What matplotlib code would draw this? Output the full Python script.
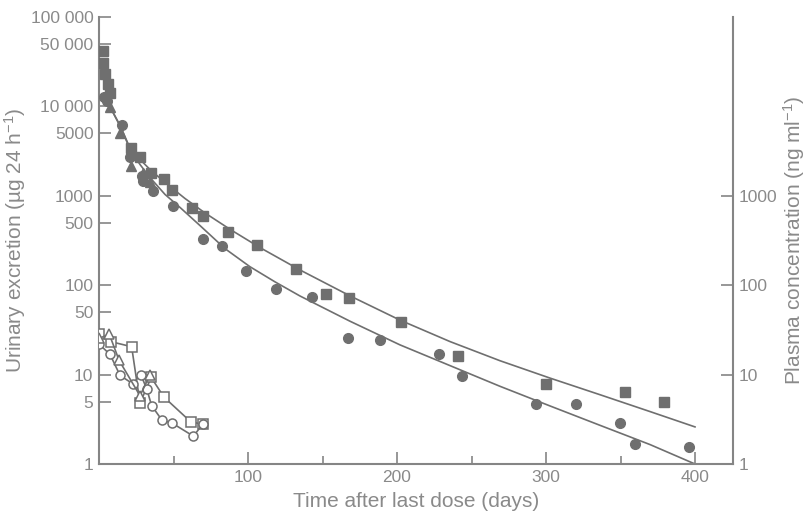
import matplotlib
matplotlib.use("Agg")
import matplotlib.pyplot as plt
from matplotlib.ticker import FixedLocator, NullLocator

plt.rcParams["font.family"] = ["Liberation Sans", "DejaVu Sans"]
plt.rcParams["mathtext.default"] = "regular"

GREY = "#6f6f6f"
AXIS = "#858585"
TEXT = "#8a8a8a"

# filled squares (urinary excretion, upper curve)
sq_day = [2.5, 2.5, 4.0, 6.2, 7.4, 21.3, 27.5, 34.7, 43.6, 48.8, 62.2, 70.0,
          86.8, 105.8, 132.2, 152.3, 167.8, 203.0, 241.1, 299.8, 353.2, 379.0]
sq_val = [41500, 30400, 23100, 17900, 14200, 3400, 2740, 1780, 1560, 1155, 726, 601,
          394, 281, 150, 79.8, 72, 38.6, 16.1, 7.9, 6.4, 4.9]

# filled circles (urinary excretion, lower curve)
ci_day = [3.5, 5.2, 15.2, 20.8, 28.6, 29.5, 36.4, 49.5, 69.6, 82.3, 98.7, 118.8,
          142.8, 166.9, 188.8, 228.0, 243.4, 293.1, 320.0, 349.9, 359.7, 395.8]
ci_val = [12700, 11600, 6180, 2690, 1650, 1480, 1117, 773, 325, 274, 146, 91.6,
          73.3, 25.9, 24.6, 16.8, 9.57, 4.71, 4.71, 2.91, 1.69, 1.53]

# filled triangles
tr_day = [7.4, 14.1, 21.3, 29.7, 34.2]
tr_val = [9880, 5000, 2170, 1820, 1410]

# fitted curves
up_day = [5.4, 10.1, 14.8, 20.8, 27.5, 34.2, 44.3, 57.7, 71.1, 87.9, 108.1, 134.9,
          168.5, 202.0, 235.6, 269.1, 302.7, 336.2, 369.8, 400.0]
up_val = [11500, 8130, 5780, 3400, 2550, 1970, 1410, 933, 643, 422, 263, 148,
          75.9, 40.7, 23.4, 14.3, 9.14, 5.96, 3.86, 2.6]
lo_day = [5.4, 10.1, 14.8, 20.8, 27.5, 34.2, 44.3, 54.4, 67.8, 84.6, 101.3, 118.1,
          134.9, 168.5, 202.0, 235.6, 269.1, 302.7, 336.2, 369.8, 400.0]
lo_val = [11500, 8130, 5780, 3300, 2240, 1600, 1035, 740, 464, 256, 161, 109,
          75.7, 39.5, 21.5, 12.6, 7.4, 4.46, 2.71, 1.65, 1.0]

# open symbols (plasma concentration)
osq_day = [0.2, 7.8, 21.9, 27.5, 35.0, 43.6, 61.5, 69.6]
osq_val = [28.3, 23.4, 20.5, 4.8, 9.3, 5.6, 2.97, 2.78]
oci_day = [0.2, 7.4, 14.1, 22.6, 28.0, 32.0, 35.3, 42.1, 49.2, 63.3, 69.6]
oci_val = [21.8, 16.8, 9.8, 7.9, 10.0, 6.95, 4.5, 3.12, 2.86, 2.05, 2.78]
otr_day = [0.2, 6.9, 13.5, 27.5, 34.2]
otr_val = [25.5, 28.3, 14.4, 5.8, 9.9]

left_ticks = [1, 5, 10, 50, 100, 500, 1000, 5000, 10000, 50000, 100000]
left_labels = ["1", "5", "10", "50", "100", "500", "1000", "5000",
               "10 000", "50 000", "100 000"]
right_ticks = [1, 10, 100, 1000]
x_major = [100, 200, 300, 400]
x_minor = [50, 150, 250, 350]

fig = plt.figure(figsize=(8.07, 5.13), dpi=100)
ax = fig.add_axes([0.1227, 0.0955, 0.7856, 0.8714])
ax.set_yscale("log")
ax.set_xlim(0, 425.5)
ax.set_ylim(1, 100000)

ax.plot(up_day, up_val, color=GREY, lw=1.2, zorder=2)
ax.plot(lo_day, lo_val, color=GREY, lw=1.2, zorder=2)
ax.plot(sq_day, sq_val, "s", color=GREY, ms=6.5, zorder=3)
ax.plot(ci_day, ci_val, "o", color=GREY, ms=7, zorder=3)
ax.plot(tr_day, tr_val, "^", color=GREY, ms=6.5, zorder=3)

for d, v, m in [(osq_day, osq_val, "s"), (oci_day, oci_val, "o"), (otr_day, otr_val, "^")]:
    ax.plot(d, v, "-", color=GREY, lw=1.2, marker=m, ms=6.5,
            mfc="white", mec=GREY, mew=1.1, zorder=3)

for s in ["top", "right"]:
    ax.spines[s].set_visible(False)
for s in ["left", "bottom"]:
    ax.spines[s].set_color(AXIS)
    ax.spines[s].set_linewidth(1.5)

ax.yaxis.set_major_locator(FixedLocator(left_ticks))
ax.set_yticklabels(left_labels)
ax.yaxis.set_minor_locator(NullLocator())
ax.xaxis.set_major_locator(FixedLocator(x_major))
ax.xaxis.set_minor_locator(FixedLocator(x_minor))
ax.tick_params(axis="both", which="major", direction="in", length=8.5, width=1.2,
               color=AXIS, labelcolor=TEXT, labelsize=12.5, pad=4)
ax.tick_params(axis="x", which="minor", direction="in", length=6, width=1.2, color=AXIS)

ax2 = ax.twinx()
ax2.set_yscale("log")
ax2.set_ylim(1, 100000)
ax2.yaxis.set_major_locator(FixedLocator(right_ticks))
ax2.set_yticklabels([str(t) for t in right_ticks])
ax2.yaxis.set_minor_locator(NullLocator())
for s in ["top", "left", "bottom"]:
    ax2.spines[s].set_visible(False)
ax2.spines["right"].set_color(AXIS)
ax2.spines["right"].set_linewidth(1.5)
ax2.tick_params(axis="y", which="major", direction="in", length=8.5, width=1.2,
                color=AXIS, labelcolor=TEXT, labelsize=12.5, pad=4)

ax.set_xlabel("Time after last dose (days)", color=TEXT, fontsize=15, labelpad=5)
ax.set_ylabel("Urinary excretion (µg 24 h$^{-1}$)", color=TEXT, fontsize=15, labelpad=2)
ax2.set_ylabel("Plasma concentration (ng ml$^{-1}$)", color=TEXT, fontsize=15, labelpad=3)

fig.savefig("out.png", dpi=100)
